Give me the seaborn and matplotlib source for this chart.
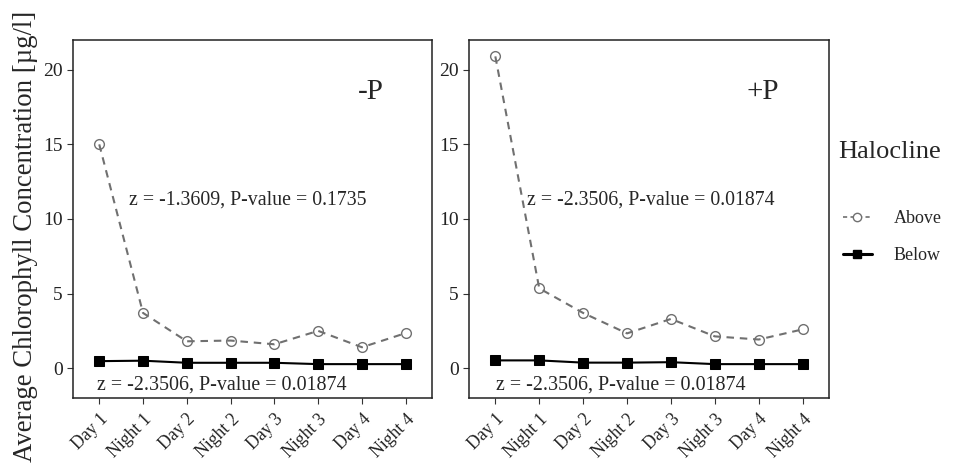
import numpy as np
import pandas as pd
import matplotlib
matplotlib.use("Agg")
import matplotlib.pyplot as plt
from matplotlib.lines import Line2D
import seaborn as sns

# time points
times = ["Day 1", "Night 1", "Day 2", "Night 2", "Day 3", "Night 3", "Day 4", "Night 4"]

# -P treatment
minus_above = [15.0, 3.7, 1.8, 1.85, 1.6, 2.5, 1.4, 2.35]
minus_below = [0.47, 0.5, 0.36, 0.36, 0.36, 0.27, 0.27, 0.27]

# +P treatment
plus_above = [20.9, 5.35, 3.7, 2.33, 3.3, 2.13, 1.92, 2.6]
plus_below = [0.52, 0.52, 0.37, 0.37, 0.4, 0.27, 0.27, 0.27]

panel_labels = ["-P", "+P"]
top_stats = ["z = -1.3609, P-value = 0.1735", "z = -2.3506, P-value = 0.01874"]
bottom_stats = ["z = -2.3506, P-value = 0.01874", "z = -2.3506, P-value = 0.01874"]

def make_df(above, below):
    return pd.DataFrame({
        "time": times * 2,
        "chl": above + below,
        "Halocline": ["Above"] * len(times) + ["Below"] * len(times),
    })

sns.set_style("ticks")
plt.rcParams['font.family'] = ['Liberation Serif', 'DejaVu Serif']

fig = plt.figure(figsize=(9.73, 4.68), dpi=100)
ax1 = fig.add_axes([0.075, 0.1496, 0.369, 0.765])
ax2 = fig.add_axes([0.482, 0.1496, 0.370, 0.765])

gray = "#707070"
palette = {"Above": gray, "Below": "black"}
markers = {"Above": "o", "Below": "s"}
dashes = {"Above": (3.6, 2.8), "Below": ""}

data = [(minus_above, minus_below), (plus_above, plus_below)]
text_pos = [(6.2, 3.4, 2.8), (6.1, 3.55, 2.85)]

for i, ax in enumerate([ax1, ax2]):
    df = make_df(*data[i])
    sns.lineplot(data=df, x="time", y="chl", hue="Halocline", style="Halocline",
                 palette=palette, markers=markers, dashes=dashes, sort=False,
                 linewidth=1.5, markersize=7, ax=ax, legend=False)
    for line in ax.get_lines():
        if line.get_marker() == "s":
            line.set_markerfacecolor("black")
            line.set_markeredgecolor("black")
        else:
            line.set_markerfacecolor("none")
            line.set_markeredgecolor(gray)
            line.set_markeredgewidth(1.0)
    ax.set_xlim(-0.6, 7.6)
    ax.set_ylim(-2, 22)
    ax.set_yticks([0, 5, 10, 15, 20])
    ax.set_xlabel("")
    ax.set_ylabel("")
    ax.tick_params(axis="x", labelsize=12.8, rotation=45, colors="#333333", length=4,
                   labelcolor="#222222", pad=5)
    ax.tick_params(axis="y", labelsize=14, colors="#333333", length=4,
                   labelcolor="#222222")
    for lab in ax.get_xticklabels():
        lab.set_ha("right")
        lab.set_rotation_mode("anchor")
    for sp in ax.spines.values():
        sp.set_color("#222222")
        sp.set_linewidth(1.1)
    px, tx, bx = text_pos[i]
    ax.text(px, 18.5, panel_labels[i], fontsize=21, ha="center", va="center")
    ax.text(tx, 11.3, top_stats[i], fontsize=14.3, ha="center", va="center")
    ax.text(bx, -1.1, bottom_stats[i], fontsize=14.4, ha="center", va="center")

fig.text(26 / 973, 1 - 236 / 468, "Average Chlorophyll Concentration [µg/l]",
         fontsize=19.3, rotation=90, ha="center", va="center")

# legend
handles = [
    Line2D([], [], color=gray, linestyle=(0, (2.5, 2)), linewidth=1.2,
           marker="o", markerfacecolor="white", markeredgecolor=gray, markersize=6),
    Line2D([], [], color="black", linewidth=2.2, marker="s", markersize=6),
]
fig.legend(handles, ["Above", "Below"], loc="center left",
           bbox_to_anchor=(843 / 973, 1 - 237 / 468), borderaxespad=0, borderpad=0,
           frameon=False, fontsize=13, handlelength=1.6, handletextpad=1.2,
           labelspacing=1.1)
fig.text(838 / 973, 1 - 152 / 468, "Halocline", fontsize=19, ha="left", va="center")

fig.savefig("out.png", dpi=100)
